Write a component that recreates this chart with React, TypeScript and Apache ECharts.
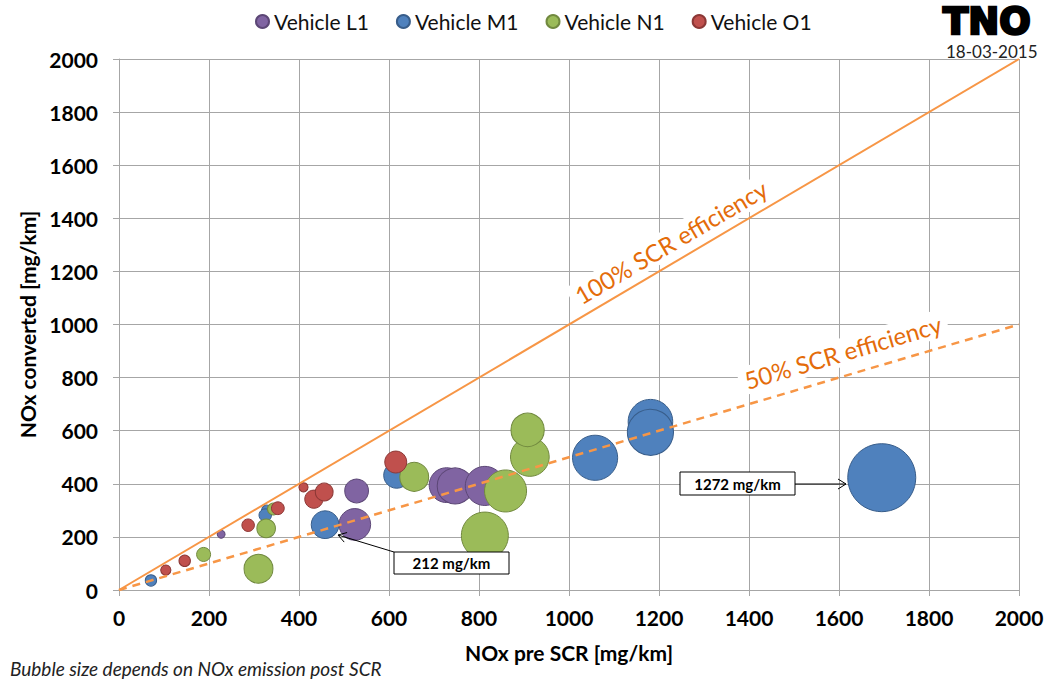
import React, { useEffect, useRef } from "react";
import * as echarts from "echarts";

// [NOx pre SCR, NOx converted, NOx post SCR (bubble size)]
const vehicleL1: number[][] = [
  [227, 210, 17],
  [528, 373, 155],
  [524, 247, 277],
  [728, 395, 333],
  [747, 392, 355],
  [813, 392, 421],
];
const vehicleM1: number[][] = [
  [71, 36, 35],
  [328, 301, 27],
  [325, 282, 43],
  [458, 246, 212],
  [617, 432, 185],
  [1058, 498, 560],
  [1181, 634, 547],
  [1181, 594, 587],
  [1695, 423, 1272],
];
const vehicleN1: number[][] = [
  [188, 134, 54],
  [310, 80, 230],
  [327, 232, 95],
  [343, 305, 38],
  [656, 426, 230],
  [813, 205, 608],
  [859, 373, 486],
  [913, 501, 412],
  [908, 603, 305],
];
const vehicleO1: number[][] = [
  [104, 75, 29],
  [146, 110, 36],
  [287, 244, 43],
  [353, 308, 45],
  [410, 387, 23],
  [433, 342, 91],
  [456, 369, 87],
  [615, 482, 133],
];
const line100: number[][] = [
  [0, 0],
  [2000, 2000],
];
const line50: number[][] = [
  [0, 0],
  [2000, 1000],
];
const seriesNames = ["Vehicle L1", "Vehicle M1", "Vehicle N1", "Vehicle O1"];
const seriesColors = ["#8064A2", "#4F81BD", "#9BBB59", "#C0504D"];
const borderColors = ["#5C4776", "#385D8A", "#71893F", "#8C3836"];
const maxPost = 1272;
const maxDiameter = 68;

function arrowHead(x1: number, y1: number, x2: number, y2: number, len = 8, half = 5) {
  const dx = x2 - x1;
  const dy = y2 - y1;
  const d = Math.sqrt(dx * dx + dy * dy);
  const ux = dx / d;
  const uy = dy / d;
  const bx = x2 - ux * len;
  const by = y2 - uy * len;
  const px = -uy;
  const py = ux;
  return [
    [bx + px * half, by + py * half],
    [x2, y2],
    [bx - px * half, by - py * half],
  ];
}

export default function App() {
  const ref = useRef<HTMLDivElement>(null);
  useEffect(() => {
    document.body.style.margin = "0";
    const chart = echarts.init(ref.current!, null, { renderer: "svg" });
    const allData = [vehicleL1, vehicleM1, vehicleN1, vehicleO1];
    const axisColor = "#A6A6A6";
    const font = "Lato";
    const scatterSeries = allData.map((d, i) => ({
      name: seriesNames[i],
      type: "scatter",
      data: d,
      symbol: "circle",
      symbolSize: (v: number[]) => maxDiameter * Math.sqrt(v[2] / maxPost),
      itemStyle: {
        color: seriesColors[i],
        borderColor: borderColors[i],
        borderWidth: 1,
        opacity: 1,
      },
      emphasis: { disabled: true },
      z: 2,
    }));
    const a1 = arrowHead(394, 552, 338, 535);
    const a2 = arrowHead(795, 484, 846, 484);
    chart.setOption({
      animation: false,
      textStyle: { fontFamily: font },
      legend: {
        data: seriesNames,
        left: 250,
        top: 6,
        icon: "circle",
        itemWidth: 13,
        itemHeight: 13,
        itemGap: 27,
        selectedMode: false,
        textStyle: { fontFamily: font, fontSize: 21, color: "#111" },
      },
      grid: { left: 119, right: 37, top: 59, bottom: 92, containLabel: false },
      xAxis: {
        type: "value",
        min: 0,
        max: 2000,
        interval: 200,
        name: "NOx pre SCR [mg/km]",
        nameLocation: "middle",
        nameGap: 52,
        nameTextStyle: { fontFamily: font, fontWeight: "bold", fontSize: 21, color: "#000" },
        axisLine: { show: true, lineStyle: { color: axisColor, width: 1 } },
        axisTick: { show: true, length: 6, lineStyle: { color: axisColor } },
        splitLine: { show: true, lineStyle: { color: axisColor, width: 1 } },
        axisLabel: {
          fontFamily: font,
          fontWeight: "bold",
          fontSize: 21,
          color: "#000",
          margin: 17,
          formatter: (v: number) => String(v),
        },
      },
      yAxis: {
        type: "value",
        min: 0,
        max: 2000,
        interval: 200,
        name: "NOx converted [mg/km]",
        nameLocation: "middle",
        nameGap: 74,
        nameRotate: 90,
        nameTextStyle: { fontFamily: font, fontWeight: "bold", fontSize: 21, color: "#000" },
        axisLine: { show: true, lineStyle: { color: axisColor, width: 1 } },
        axisTick: { show: true, length: 6, lineStyle: { color: axisColor } },
        splitLine: { show: true, lineStyle: { color: axisColor, width: 1 } },
        axisLabel: {
          fontFamily: font,
          fontWeight: "bold",
          fontSize: 21,
          color: "#000",
          margin: 21,
          formatter: (v: number) => String(v),
        },
      },
      series: [
        ...scatterSeries,
        {
          name: "100%",
          type: "line",
          data: line100,
          symbol: "none",
          lineStyle: { color: "#F79646", width: 2 },
          emphasis: { disabled: true },
          z: 3,
        },
        {
          name: "50%",
          type: "line",
          data: line50,
          symbol: "none",
          lineStyle: { color: "#F79646", width: 2.5, type: [8, 6] },
          emphasis: { disabled: true },
          z: 3,
        },
      ],
      graphic: [
        {
          type: "text",
          x: 671,
          y: 242,
          rotation: (30.5 * Math.PI) / 180,
          z: 1,
          style: {
            text: "100% SCR efficiency",
            font: `24px ${font}`,
            fill: "#E46C0A",
            align: "center",
            verticalAlign: "middle",
            backgroundColor: "#fff",
            padding: [2, 6],
          },
        },
        {
          type: "text",
          x: 843,
          y: 352,
          rotation: (16.4 * Math.PI) / 180,
          z: 1,
          style: {
            text: "50% SCR efficiency",
            font: `24px ${font}`,
            fill: "#E46C0A",
            align: "center",
            verticalAlign: "middle",
            backgroundColor: "#fff",
            padding: [2, 6],
          },
        },
        {
          type: "text",
          x: 943,
          y: 3,
          z: 5,
          style: {
            text: "TNO",
            font: `bold 37px "DejaVu Sans"`,
            fill: "#000",
            stroke: "#000",
            lineWidth: 2.5,
          },
        },
        {
          type: "text",
          x: 946,
          y: 43,
          z: 5,
          style: { text: "18-03-2015", font: `17px ${font}`, fill: "#222" },
        },
        {
          type: "text",
          x: 10,
          y: 668,
          z: 5,
          style: {
            text: "Bubble size depends on NOx emission post SCR",
            font: `italic 19px ${font}`,
            fill: "#222",
            verticalAlign: "middle",
          },
        },
        {
          type: "line",
          z: 10,
          shape: { x1: 394, y1: 552, x2: 338, y2: 535 },
          style: { stroke: "#000", lineWidth: 1 },
        },
        {
          type: "polyline",
          z: 10,
          shape: { points: a1 },
          style: { stroke: "#000", lineWidth: 1, fill: null },
        },
        {
          type: "rect",
          z: 10,
          shape: { x: 394, y: 552, width: 115, height: 22 },
          style: { fill: "#fff", stroke: "#000", lineWidth: 1 },
        },
        {
          type: "text",
          z: 11,
          x: 451.5,
          y: 563,
          style: {
            text: "212 mg/km",
            font: `bold 15px ${font}`,
            fill: "#000",
            align: "center",
            verticalAlign: "middle",
          },
        },
        {
          type: "line",
          z: 10,
          shape: { x1: 795, y1: 484, x2: 846, y2: 484 },
          style: { stroke: "#000", lineWidth: 1 },
        },
        {
          type: "polyline",
          z: 10,
          shape: { points: a2 },
          style: { stroke: "#000", lineWidth: 1, fill: null },
        },
        {
          type: "rect",
          z: 10,
          shape: { x: 680, y: 472, width: 115, height: 23 },
          style: { fill: "#fff", stroke: "#000", lineWidth: 1 },
        },
        {
          type: "text",
          z: 11,
          x: 737.5,
          y: 484,
          style: {
            text: "1272 mg/km",
            font: `bold 15px ${font}`,
            fill: "#000",
            align: "center",
            verticalAlign: "middle",
          },
        },
      ],
    });
    return () => chart.dispose();
  }, []);
  return <div ref={ref} style={{ width: 1056, height: 682 }} />;
}
